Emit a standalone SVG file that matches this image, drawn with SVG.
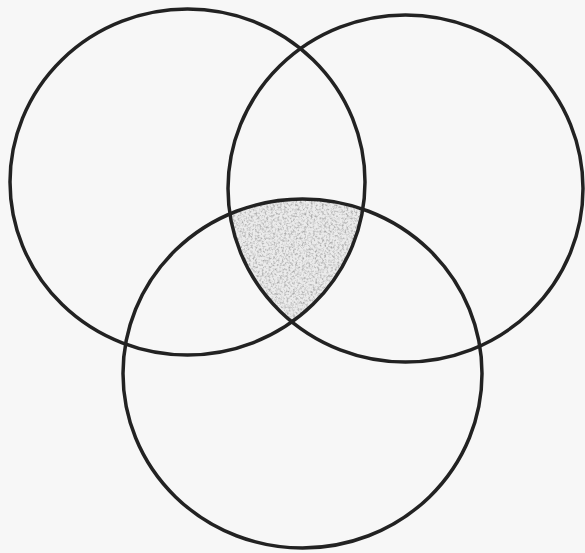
<svg xmlns="http://www.w3.org/2000/svg" width="585" height="553" viewBox="0 0 585 553">
<style>
.c{fill:none;stroke:#222;stroke-width:3.5}
</style>
<defs>
<clipPath id="k1"><ellipse cx="187.5" cy="182" rx="177.5" ry="173"/></clipPath>
<clipPath id="k2"><ellipse cx="405.5" cy="188.5" rx="177.5" ry="173.5"/></clipPath>
<filter id="stip" x="0" y="0" width="1" height="1">
<feTurbulence type="fractalNoise" baseFrequency="0.45" numOctaves="3" seed="3" result="n"/>
<feColorMatrix in="n" type="matrix" values="0 0 0 0 0.4  0 0 0 0 0.4  0 0 0 0 0.4  2.4 0 0 0 -1.0" result="d"/>
<feFlood flood-color="#ebebeb" result="bg"/>
<feMerge result="m"><feMergeNode in="bg"/><feMergeNode in="d"/></feMerge>
<feComposite in="m" in2="SourceGraphic" operator="in"/>
</filter>
</defs>
<rect width="585" height="553" fill="#f7f7f7"/>
<g id="shaded" clip-path="url(#k1)">
<g clip-path="url(#k2)">
<ellipse cx="302.5" cy="373.5" rx="179.5" ry="174.5" fill="#ddd" filter="url(#stip)"/>
</g>
</g>
<g id="connectors"></g>
<g id="circle-1"><ellipse class="c" cx="187.5" cy="182" rx="177.5" ry="173"/></g>
<g id="circle-2"><ellipse class="c" cx="405.5" cy="188.5" rx="177.5" ry="173.5"/></g>
<g id="circle-3"><ellipse class="c" cx="302.5" cy="373.5" rx="179.5" ry="174.5"/></g>
</svg>
